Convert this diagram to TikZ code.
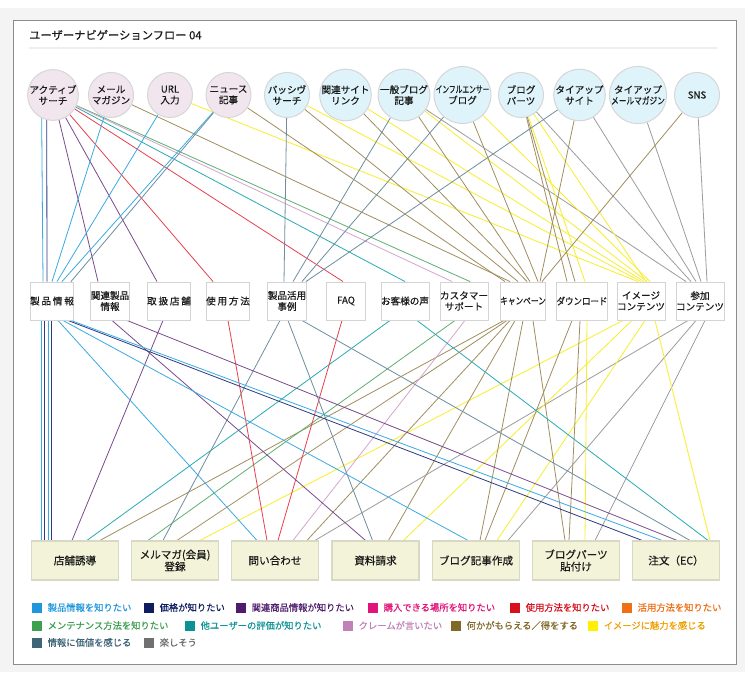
\documentclass[tikz,border=0pt]{standalone}
\usepackage{fontspec}
\usepackage{graphicx}
\setmainfont{Noto Sans CJK JP}[FakeBold=0.4]
\pgfdeclarelayer{panel}
\pgfdeclarelayer{edges}
\pgfsetlayers{panel,edges,main}
% line colours
\definecolor{lBlue}{HTML}{3AAAE2}
\definecolor{lNavy}{HTML}{2E3A7E}
\definecolor{lPurple}{HTML}{7A4A8C}
\definecolor{lRed}{HTML}{E8404C}
\definecolor{lGreen}{HTML}{5DAF72}
\definecolor{lTeal}{HTML}{2AAAB4}
\definecolor{lLilac}{HTML}{D4A6CE}
\definecolor{lOlive}{HTML}{A08E5E}
\definecolor{lYellow}{HTML}{F8EE2A}
\definecolor{lSlate}{HTML}{6E8E9E}
\definecolor{lGray}{HTML}{9C9C9C}
% legend colours
\definecolor{kBlue}{HTML}{1E96DC}
\definecolor{kNavy}{HTML}{0F1C60}
\definecolor{kPurple}{HTML}{4E1C6C}
\definecolor{kMagenta}{HTML}{E0147A}
\definecolor{kRed}{HTML}{D8101E}
\definecolor{kOrange}{HTML}{F06E14}
\definecolor{kGreen}{HTML}{3CA050}
\definecolor{kTeal}{HTML}{0A9294}
\definecolor{kLilac}{HTML}{C080B8}
\definecolor{kOlive}{HTML}{806A28}
\definecolor{kYellow}{HTML}{FFF000}
\definecolor{kYellowText}{HTML}{F0A000}
\definecolor{kSlate}{HTML}{3E6478}
\definecolor{kGray}{HTML}{707070}
% shapes
\definecolor{pinkFill}{HTML}{F2E6EE}
\definecolor{cyanFill}{HTML}{DFF4FA}
\definecolor{circBorder}{HTML}{D6D6D6}
\definecolor{boxBorder}{HTML}{D4D4D4}
\definecolor{botFill}{HTML}{F3F3D9}
\definecolor{botBorder}{HTML}{D8D8C4}
\definecolor{bgGray}{HTML}{F4F4F4}
\definecolor{panelBorder}{HTML}{8C8C8C}
\definecolor{sepLine}{HTML}{EEEEEE}
\definecolor{txt}{HTML}{1A1A1A}
\newcommand\hsq[2]{\scalebox{#1}[1]{#2}}
\begin{document}
\begin{tikzpicture}[x=1pt,y=-1pt,
  topa/.style={circle, minimum size=45pt, inner sep=0pt, fill=pinkFill, draw=circBorder, line width=1pt, align=center, text=txt, font=\fontsize{9.6}{11}\selectfont},
  topb/.style={topa, fill=cyanFill},
  midbox/.style={rectangle, minimum width=39pt, minimum height=38pt, inner sep=0pt, fill=white, draw=boxBorder, line width=0.9pt, align=center, text=txt, font=\fontsize{9.6}{11}\selectfont},
  botbox/.style={rectangle, minimum width=87pt, minimum height=39pt, inner sep=0pt, fill=botFill, draw=botBorder, line width=1.2pt, align=center, text=txt, font=\fontsize{10.6}{12}\selectfont},
  legsq/.style={rectangle, minimum size=10pt, inner sep=0pt},
  legtxt/.style={anchor=west, inner sep=0pt, font=\fontsize{9.3}{11}\selectfont},
  eln/.style={line width=0.8pt},
  eblue/.style={eln, draw=lBlue}, enavy/.style={eln, draw=lNavy},
  epurple/.style={eln, draw=lPurple}, ered/.style={eln, draw=lRed},
  egreen/.style={eln, draw=lGreen}, eteal/.style={eln, draw=lTeal},
  elilac/.style={eln, draw=lLilac}, eolive/.style={eln, draw=lOlive},
  eyellow/.style={eln, draw=lYellow}, eslate/.style={eln, draw=lSlate},
  egray/.style={eln, draw=lGray}
]
\useasboundingbox (0,0) rectangle (750,679);
\begin{pgfonlayer}{panel}
\fill[white] (0,0) rectangle (750,679);
\fill[bgGray] (0,8) rectangle (745,672);
\draw[fill=white, draw=panelBorder, line width=1pt] (13,21) rectangle (736,664);
\draw[sepLine, line width=1.5pt] (29,48) -- (717,48);
\end{pgfonlayer}

\node[anchor=west, inner sep=0pt, text=txt, font=\fontsize{11.3}{12}\selectfont] (title) at (29,35) {ユーザーナビゲーションフロー 04};

% top circles
\node[topa] (T1) at (53,95) {アクティブ\\サーチ};
\node[topa] (T2) at (111,95) {メール\\マガジン};
\node[topa] (T3) at (170,95) {URL\\入力};
\node[topa] (T4) at (228.5,95) {ニュース\\記事};
\node[topb] (T5) at (287,95) {パッシヴ\\サーチ};
\node[topb] (T6) at (345.5,95) {関連サイト\\リンク};
\node[topb] (T7) at (404,95) {一般ブログ\\記事};
\node[topb] (T8) at (462.5,95) {\hsq{0.7}{インフルエンサー}\\ブログ};
\node[topb] (T9) at (521,95) {ブログ\\パーツ};
\node[topb] (T10) at (579.5,95) {タイアップ\\サイト};
\node[topb] (T11) at (638,95) {タイアップ\\\hsq{0.8}{メールマガジン}};
\node[topb] (T12) at (697,95) {SNS};

% middle boxes
\node[midbox] (M1) at (52,301) {製\kern1.8pt 品\kern1.8pt 情\kern1.8pt 報};
\node[midbox] (M2) at (110,301) {関連製品\\情報};
\node[midbox] (M3) at (169,301) {取\kern1.8pt 扱\kern1.8pt 店\kern1.8pt 舗};
\node[midbox] (M4) at (228,301) {使\kern1.8pt 用\kern1.8pt 方\kern1.8pt 法};
\node[midbox] (M5) at (287,301) {製品活用\\事例};
\node[midbox] (M6) at (346,301) {FAQ};
\node[midbox] (M7) at (405,301) {お客様の声};
\node[midbox] (M8) at (464,301) {カスタマー\\サポート};
\node[midbox] (M9) at (523,301) {\hsq{0.8}{キャンペーン}};
\node[midbox] (M10) at (582,301) {\hsq{0.88}{ダウンロード}};
\node[midbox] (M11) at (641,301) {イメージ\\コンテンツ};
\node[midbox] (M12) at (700,301) {参加\\コンテンツ};

% bottom boxes
\node[botbox] (B1) at (75,560.5) {店舗誘導};
\node[botbox] (B2) at (175,560.5) {メルマガ(会員)\\登録};
\node[botbox] (B3) at (275,560.5) {問い合わせ};
\node[botbox] (B4) at (375.5,560.5) {資料請求};
\node[botbox] (B5) at (476,560.5) {ブログ記事作成};
\node[botbox] (B6) at (576,560.5) {ブログパーツ\\貼付け};
\node[botbox] (B7) at (676,560.5) {注文（EC）};

\begin{pgfonlayer}{edges}
% top -> middle
\draw[eblue] (T1.-116) -- ([xshift=-9pt]M1.north);
\draw[enavy] (T1.-104) -- ([xshift=-5pt]M1.north);
\draw[epurple] (T1) -- ([xshift=-12pt]M2.north);
\draw[epurple] (T1) -- ([xshift=-12pt]M3.north);
\draw[ered] (T1) -- ([xshift=-15pt]M4.north);
\draw[ered] (T1) -- ([xshift=-3pt]M6.north);
\draw[egreen] (T1) -- ([xshift=6pt]M8.north);
\draw[elilac] (T1) -- ([xshift=-12pt]M8.north);
\draw[eteal] (T1) -- (M7.north);
\draw[eblue] (T2) -- (M1.north);
\draw[eolive] (T2) -- ([xshift=-13pt]M9.north);
\draw[eblue] (T3) -- ([xshift=5pt]M1.north);
\draw[eyellow] (T3) -- ([xshift=-3pt]M11.north);
\draw[eblue] (T4) -- ([xshift=10pt]M1.north);
\draw[eslate] (T4) -- ([xshift=19pt]M1.north);
\draw[eolive] (T4) -- ([xshift=-18pt]M9.north);
\draw[eslate] (T5) -- ([xshift=-3pt]M5.north);
\draw[eolive] (T5) -- ([xshift=-5pt]M9.north);
\draw[eyellow] (T5) -- (M11.north);
\draw[eolive] (T6) -- ([xshift=4pt]M9.north);
\draw[eyellow] (T6) -- ([xshift=3pt]M11.north);
\draw[eslate] (T7) -- ([xshift=6pt]M5.north);
\draw[eolive] (T7) -- ([xshift=7pt]M9.north);
\draw[eyellow] (T7) -- ([xshift=6pt]M11.north);
\draw[egray] (T7) -- ([xshift=-14pt]M12.north);
\draw[eslate] (T8) -- ([xshift=15pt]M5.north);
\draw[eolive] (T8) -- ([xshift=15pt]M9.north);
\draw[eyellow] (T8) -- ([xshift=9pt]M11.north);
\draw[eolive] (T9) -- ([xshift=-15pt]M10.north);
\draw[eolive] (T9) -- ([xshift=-7pt]M10.north);
\draw[eyellow] (T9) -- ([xshift=3pt]M10.north);
\draw[eyellow] (T9) -- ([xshift=5pt]M11.north);
\draw[egray] (T9) -- ([xshift=-9pt]M12.north);
\draw[eslate] (T10) -- ([xshift=19pt]M5.north);
\draw[eolive] (T10) -- ([xshift=17pt]M9.north);
\draw[egray] (T10) -- ([xshift=-4pt]M12.north);
\draw[egray] (T11) -- ([xshift=1pt]M12.north);
\draw[eolive] (T12) -- ([xshift=19pt]M9.north);
\draw[egray] (T12) -- ([xshift=7pt]M12.north);
% middle -> bottom
\draw[eblue] ([xshift=-11pt]M1.south) -- ([xshift=-34pt]B1.north);
\draw[enavy] ([xshift=-8pt]M1.south) -- ([xshift=-31pt]B1.north);
\draw[eblue] ([xshift=-4pt]M1.south) -- ([xshift=-27pt]B1.north);
\draw[enavy] ([xshift=-1pt]M1.south) -- ([xshift=-24pt]B1.north);
\draw[epurple] ([xshift=-6pt]M3.south) -- ([xshift=-3pt]B1.north);
\draw[eteal] ([xshift=-15pt]M7.south) -- ([xshift=12pt]B1.north);
\draw[eolive] ([xshift=-19pt]M9.south) -- ([xshift=25pt]B1.north);
\draw[egreen] ([xshift=-9pt]M8.south) -- ([xshift=-27pt]B2.north);
\draw[eslate] ([xshift=-7pt]M5.south) -- ([xshift=-12pt]B2.north);
\draw[eolive] ([xshift=-16pt]M9.south) -- ([xshift=2pt]B2.north);
\draw[eyellow] ([xshift=-18pt]M11.south) -- ([xshift=25pt]B2.north);
\draw[eblue] ([xshift=6pt]M1.south) -- ([xshift=-18pt]B3.north);
\draw[ered] (M4.south) -- ([xshift=-8pt]B3.north);
\draw[ered] ([xshift=-4pt]M6.south) -- ([xshift=3pt]B3.north);
\draw[elilac] ([xshift=1pt]M8.south) -- ([xshift=18pt]B3.north);
\draw[eolive] ([xshift=-13pt]M9.south) -- ([xshift=32pt]B3.north);
\draw[egray] ([xshift=-12pt]M12.south) -- ([xshift=40pt]B3.north);
\draw[epurple] ([xshift=2pt]M2.south) -- ([xshift=-10pt]B4.north);
\draw[eslate] ([xshift=1pt]M5.south) -- ([xshift=-3pt]B4.north);
\draw[eolive] ([xshift=-8pt]M9.south) -- ([xshift=13pt]B4.north);
\draw[eyellow] ([xshift=-9pt]M11.south) -- ([xshift=28pt]B4.north);
\draw[eblue] ([xshift=11pt]M1.south) -- ([xshift=-8pt]B5.north);
\draw[eolive] (M9.south) -- ([xshift=4pt]B5.north);
\draw[eolive] ([xshift=-10pt]M10.south) -- ([xshift=9pt]B5.north);
\draw[eyellow] ([xshift=4pt]M11.south) -- ([xshift=21pt]B5.north);
\draw[egray] ([xshift=-4pt]M12.south) -- ([xshift=32pt]B5.north);
\draw[eolive] ([xshift=10pt]M9.south) -- ([xshift=-11pt]B6.north);
\draw[eolive] ([xshift=-2pt]M10.south) -- ([xshift=-7pt]B6.north);
\draw[eyellow] ([xshift=5pt]M10.south) -- ([xshift=9pt]B6.north);
\draw[egray] ([xshift=5pt]M12.south) -- ([xshift=19pt]B6.north);
\draw[enavy] ([xshift=16pt]M1.south) -- ([xshift=-34pt]B7.north);
\draw[eblue] ([xshift=19pt]M1.south) -- ([xshift=-14pt]B7.north);
\draw[epurple] ([xshift=17pt]M2.south) -- ([xshift=1pt]B7.north);
\draw[eslate] ([xshift=15pt]M5.south) -- ([xshift=14pt]B7.north);
\draw[eteal] ([xshift=12pt]M7.south) -- ([xshift=32pt]B7.north);
\draw[eyellow] ([xshift=14pt]M11.south) -- ([xshift=34pt]B7.north);
\end{pgfonlayer}

% legend
\node[legsq, fill=kBlue] (K1) at (37,607.5) {};
\node[legtxt, text=kBlue] (K1t) at (47.5,607.5) {製品情報を知りたい};
\node[legsq, fill=kNavy] (K2) at (149,607.5) {};
\node[legtxt, text=kNavy] (K2t) at (159.5,607.5) {価格が知りたい};
\node[legsq, fill=kPurple] (K3) at (241,607.5) {};
\node[legtxt, text=kPurple] (K3t) at (251.5,607.5) {関連商品情報が知りたい};
\node[legsq, fill=kMagenta] (K4) at (373,607.5) {};
\node[legtxt, text=kMagenta] (K4t) at (383.5,607.5) {購入できる場所を知りたい};
\node[legsq, fill=kRed] (K5) at (515,607.5) {};
\node[legtxt, text=kRed] (K5t) at (525.5,607.5) {使用方法を知りたい};
\node[legsq, fill=kOrange] (K6) at (627,607.5) {};
\node[legtxt, text=kOrange] (K6t) at (637.5,607.5) {活用方法を知りたい};
\node[legsq, fill=kGreen] (K7) at (37,625.5) {};
\node[legtxt, text=kGreen] (K7t) at (47.5,625.5) {メンテナンス方法を知りたい};
\node[legsq, fill=kTeal] (K8) at (190,625.5) {};
\node[legtxt, text=kTeal] (K8t) at (200.5,625.5) {他ユーザーの評価が知りたい};
\node[legsq, fill=kLilac] (K9) at (348,625.5) {};
\node[legtxt, text=kLilac] (K9t) at (358.5,625.5) {クレームが言いたい};
\node[legsq, fill=kOlive] (K10) at (456,625.5) {};
\node[legtxt, text=kOlive] (K10t) at (466.5,625.5) {何かがもらえる／得をする};
\node[legsq, fill=kYellow] (K11) at (593,625.5) {};
\node[legtxt, text=kYellowText] (K11t) at (603.5,625.5) {イメージに魅力を感じる};
\node[legsq, fill=kSlate] (K12) at (37,642.5) {};
\node[legtxt, text=kSlate] (K12t) at (47.5,642.5) {情報に価値を感じる};
\node[legsq, fill=kGray] (K13) at (149,642.5) {};
\node[legtxt, text=kGray] (K13t) at (159.5,642.5) {楽しそう};
\end{tikzpicture}
\end{document}
